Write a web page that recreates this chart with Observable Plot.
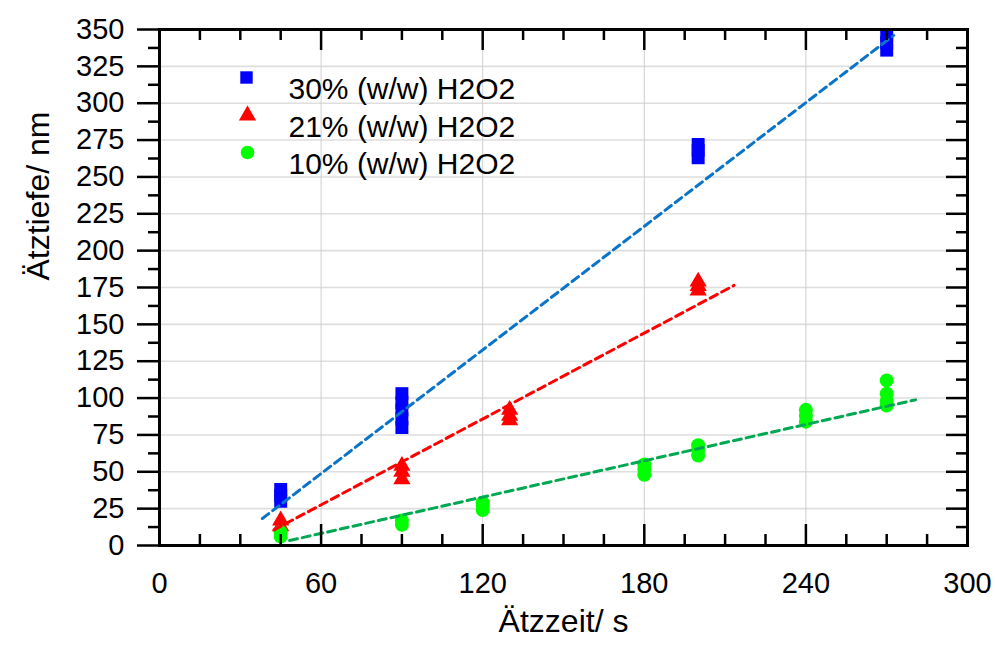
<!DOCTYPE html>
<html>
<head>
<meta charset="utf-8">
<script src="https://cdn.jsdelivr.net/npm/d3@7"></script>
<script src="https://cdn.jsdelivr.net/npm/@observablehq/plot@0.6"></script>
<style>
  html, body { margin: 0; padding: 0; background: #fff; }
  #chart { width: 995px; height: 645px; }
</style>
</head>
<body>
<div id="chart"></div>
<script>
// ---- data ----
const seriesNames = ["30% (w/w) H2O2", "21% (w/w) H2O2", "10% (w/w) H2O2"];
const xTitle = "Ätzzeit/ s";
const yTitle = "Ätztiefe/ nm";
const xTickValues = [0, 60, 120, 180, 240, 300];
const yTickValues = [0, 25, 50, 75, 100, 125, 150, 175, 200, 225, 250, 275, 300, 325, 350];

// 30% series (blue squares)
const x30 = [45, 45, 45, 90, 90, 90, 90, 90, 200, 200, 200, 270, 270, 270];
const y30 = [30, 34, 38, 80, 86, 92, 97, 103, 263, 268, 272, 336, 341, 346];
// 21% series (red triangles)
const x21 = [45, 45, 90, 90, 90, 130, 130, 130, 200, 200, 200];
const y21 = [13, 17, 45, 50, 54, 85, 88, 92, 173, 176, 179];
// 10% series (green circles)
const x10 = [45, 45, 90, 90, 120, 120, 120, 180, 180, 180, 200, 200, 200, 240, 240, 240, 270, 270, 270, 270];
const y10 = [6, 9, 14, 17, 24, 27, 29, 48, 52, 55, 61, 65, 68, 84, 88, 92, 95, 98, 103, 112];

// dashed fit lines (end points)
const fit30X = [38.2, 272.6], fit30Y = [18.3, 346.0];
const fit21X = [42.5, 213.3], fit21Y = [10.6, 176.4];
const fit10X = [48.3, 280.7], fit10Y = [3.4, 98.8];

// ---- build tables ----
const pts = (xs, ys) => xs.map((x, i) => ({x, y: ys[i]}));
const d30 = pts(x30, y30), d21 = pts(x21, y21), d10 = pts(x10, y10);
const f30 = pts(fit30X, fit30Y), f21 = pts(fit21X, fit21Y), f10 = pts(fit10X, fit10Y);

const W = 995, H = 645, mL = 159, mR = 28, mT = 29, mB = 100;
const plotW = W - mL - mR, plotH = H - mT - mB;
const majX = d3.range(0, 301, 60), minX = d3.range(15, 300, 15).filter(v => v % 60 !== 0);
const majY = d3.range(0, 351, 25), minY = d3.range(12.5, 350, 25);

const tick = 2.5;
const chart = Plot.plot({
  width: W, height: H,
  marginLeft: mL, marginRight: mR, marginTop: mT, marginBottom: mB,
  style: {fontFamily: "'Liberation Sans', Arial, sans-serif", background: "white", color: "black"},
  x: {domain: [0, 300], axis: null},
  y: {domain: [0, 350], axis: null},
  marks: [
    // grid
    Plot.ruleY(majY, {stroke: "#dedede", strokeWidth: 1.6}),
    Plot.ruleX(majX, {stroke: "#cfcfcf", strokeWidth: 1}),
    // data
    Plot.dot(d30, {x: "x", y: "y", symbol: "square", r: 7.3, fill: "#0000ff", stroke: null}),
    Plot.dot(d21, {x: "x", y: "y", symbol: "triangle", r: 6.4, fill: "#ff0000", stroke: null}),
    Plot.dot(d10, {x: "x", y: "y", symbol: "circle", r: 7, fill: "#00ff00", stroke: null}),
    // fit lines
    Plot.line(f30, {x: "x", y: "y", stroke: "#0a74c8", strokeWidth: 3, strokeDasharray: "8,5"}),
    Plot.line(f21, {x: "x", y: "y", stroke: "#ff0000", strokeWidth: 3, strokeDasharray: "8,5"}),
    Plot.line(f10, {x: "x", y: "y", stroke: "#00a852", strokeWidth: 3, strokeDasharray: "8,5"}),
    // inward ticks: bottom, top, right
    Plot.ruleX(majX, {stroke: "black", strokeWidth: tick, insetTop: plotH - 21}),
    Plot.ruleX(minX, {stroke: "black", strokeWidth: tick, insetTop: plotH - 11}),
    Plot.ruleX(majX, {stroke: "black", strokeWidth: tick, insetBottom: plotH - 21}),
    Plot.ruleX(minX, {stroke: "black", strokeWidth: tick, insetBottom: plotH - 11}),
    Plot.ruleY(majY, {stroke: "black", strokeWidth: tick, insetLeft: plotW - 21}),
    Plot.ruleY(minY, {stroke: "black", strokeWidth: tick, insetLeft: plotW - 11}),
    // left axis, outward ticks
    Plot.axisY(yTickValues, {anchor: "left", tickSize: 22, tickPadding: 13, fontSize: 29, strokeWidth: tick, label: null}),
    Plot.axisY(minY, {anchor: "left", tickSize: 11, tickFormat: () => "", strokeWidth: tick, label: null}),
    // bottom labels
    Plot.axisX(xTickValues, {anchor: "bottom", tickSize: 0, tickPadding: 27, fontSize: 29, label: null}),
    Plot.frame({stroke: "black", strokeWidth: 3}),
    // axis titles
    Plot.text([xTitle], {text: d => d, frameAnchor: "bottom", dy: 86, fontSize: 32, fill: "black"}),
    Plot.text([yTitle], {text: d => d, frameAnchor: "left", dx: -121, dy: -7, rotate: -90, fontSize: 32, fill: "black"}),
    // legend
    Plot.dot([seriesNames[0]], {frameAnchor: "top-left", dx: 87, dy: 48, symbol: "square", r: 7, fill: "#0000ff", stroke: null}),
    Plot.dot([seriesNames[1]], {frameAnchor: "top-left", dx: 88, dy: 86, symbol: "triangle", r: 6.4, fill: "#ff0000", stroke: null}),
    Plot.dot([seriesNames[2]], {frameAnchor: "top-left", dx: 88, dy: 123, symbol: "circle", r: 6.8, fill: "#00ff00", stroke: null}),
    Plot.text([seriesNames[0]], {text: d => d, frameAnchor: "top-left", dx: 129, dy: 48, textAnchor: "start", fontSize: 30, fill: "black"}),
    Plot.text([seriesNames[1]], {text: d => d, frameAnchor: "top-left", dx: 129, dy: 86, textAnchor: "start", fontSize: 30, fill: "black"}),
    Plot.text([seriesNames[2]], {text: d => d, frameAnchor: "top-left", dx: 129, dy: 123, textAnchor: "start", fontSize: 30, fill: "black"})
  ]
});
document.getElementById("chart").appendChild(chart);
</script>
</body>
</html>
